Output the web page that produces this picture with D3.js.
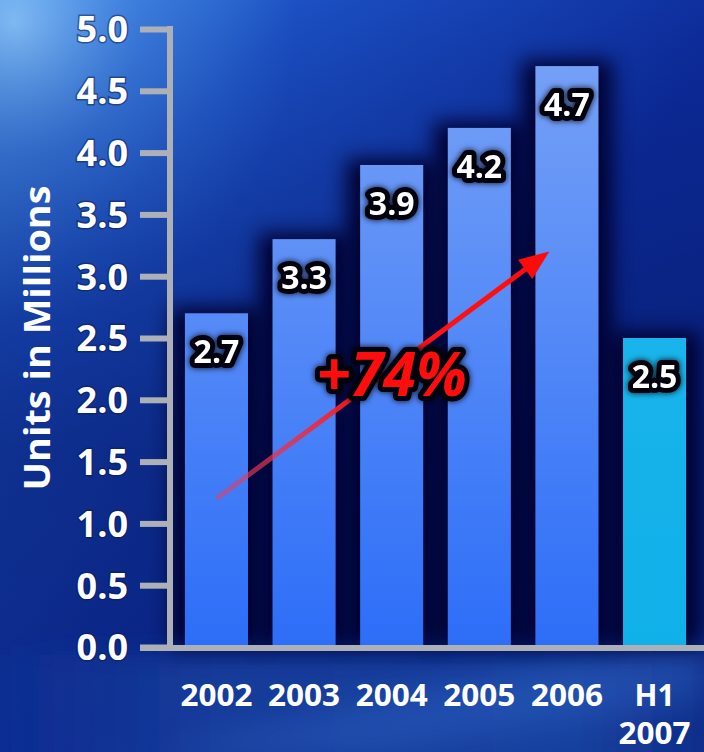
<!DOCTYPE html>
<html>
<head>
<meta charset="utf-8">
<script src="https://cdn.jsdelivr.net/npm/d3@7"></script>
<style>
  html, body { margin: 0; padding: 0; background: #0a2a8a; }
  svg { display: block; }
  text { font-family: "Open Sans", "Noto Sans", sans-serif; font-weight: 700; }
</style>
</head>
<body>
<svg id="chart" width="704" height="752"></svg>
<script>
// Units shipped per period, in millions
const categories = ["2002", "2003", "2004", "2005", "2006", "H1 2007"];
const unitValues = [2.7, 3.3, 3.9, 4.2, 4.7, 2.5];
const yTicks = [0, 0.5, 1.0, 1.5, 2.0, 2.5, 3.0, 3.5, 4.0, 4.5, 5.0];
const yTitle = "Units in Millions";
// Growth annotation: arrow from 2002 to 2006 and its label
const growthLabel = "+74%";
const arrowFrom = { cat: "2002", value: 1.2 };
const arrowTo = { cat: "2006", value: 3.2 };

const W = 704, H = 752;
const svg = d3.select("#chart");
const defs = svg.append("defs");

// ---- background ----
const bg = defs.append("linearGradient").attr("id", "bgMain")
  .attr("x1", 0).attr("y1", 0).attr("x2", 1).attr("y2", 1);
bg.append("stop").attr("offset", "0%").attr("stop-color", "#3f86e0");
bg.append("stop").attr("offset", "22%").attr("stop-color", "#1b4fc2");
bg.append("stop").attr("offset", "55%").attr("stop-color", "#0c2a98");
bg.append("stop").attr("offset", "100%").attr("stop-color", "#0a2384");

const glow = defs.append("radialGradient").attr("id", "bgGlow")
  .attr("cx", 0.02).attr("cy", 0.03).attr("r", 0.4);
glow.append("stop").attr("offset", "0%").attr("stop-color", "#86c0f6").attr("stop-opacity", 0.95);
glow.append("stop").attr("offset", "45%").attr("stop-color", "#4a8ee6").attr("stop-opacity", 0.45);
glow.append("stop").attr("offset", "100%").attr("stop-color", "#3f86e0").attr("stop-opacity", 0);

const lowShade = defs.append("linearGradient").attr("id", "bgLow")
  .attr("x1", 0).attr("y1", 0).attr("x2", 0).attr("y2", 1);
lowShade.append("stop").attr("offset", "0%").attr("stop-color", "#061a66").attr("stop-opacity", 0);
lowShade.append("stop").attr("offset", "60%").attr("stop-color", "#061a66").attr("stop-opacity", 0.5);
lowShade.append("stop").attr("offset", "84%").attr("stop-color", "#061a66").attr("stop-opacity", 0.4);
lowShade.append("stop").attr("offset", "100%").attr("stop-color", "#061a66").attr("stop-opacity", 0.2);

svg.append("rect").attr("width", W).attr("height", H).attr("fill", "url(#bgMain)");
svg.append("rect").attr("width", W).attr("height", H).attr("fill", "url(#bgGlow)");
svg.append("rect").attr("width", W).attr("height", H).attr("fill", "url(#bgLow)");

// lighter band below the baseline, fading in from the left
const floor = defs.append("linearGradient").attr("id", "bgFloor")
  .attr("x1", 0).attr("y1", 0).attr("x2", 1).attr("y2", 0);
floor.append("stop").attr("offset", "0%").attr("stop-color", "#1a45a2").attr("stop-opacity", 0);
floor.append("stop").attr("offset", "30%").attr("stop-color", "#1a45a2").attr("stop-opacity", 0.7);
floor.append("stop").attr("offset", "80%").attr("stop-color", "#1b48a6").attr("stop-opacity", 0.8);
floor.append("stop").attr("offset", "100%").attr("stop-color", "#12348f").attr("stop-opacity", 0.6);
const floorFade = defs.append("filter").attr("id", "floorBlur")
  .attr("x", "-10%").attr("y", "-30%").attr("width", "120%").attr("height", "160%");
floorFade.append("feGaussianBlur").attr("stdDeviation", 14);
svg.append("rect").attr("x", -20).attr("y", 655).attr("width", W + 40).attr("height", 130)
  .attr("fill", "url(#bgFloor)").attr("filter", "url(#floorBlur)");

// soft diagonal streak under the axis
const streak = defs.append("filter").attr("id", "streakBlur")
  .attr("x", "-20%").attr("y", "-50%").attr("width", "140%").attr("height", "200%");
streak.append("feGaussianBlur").attr("stdDeviation", 16);
svg.append("path")
  .attr("d", "M160,752 L430,690 L704,640 L704,700 L380,752 Z")
  .attr("fill", "#3068c8").attr("opacity", 0.4)
  .attr("filter", "url(#streakBlur)");

// ---- scales ----
const y = d3.scaleLinear().domain([0, 5]).range([647, 29]);
const x = d3.scaleBand().domain(categories).range([170, 701])
  .paddingInner(0.28).paddingOuter(0.17);

// ---- bar shadows ----
const shadow = defs.append("filter").attr("id", "barShadow")
  .attr("x", "-60%").attr("y", "-30%").attr("width", "220%").attr("height", "160%");
shadow.append("feGaussianBlur").attr("stdDeviation", 10);

svg.append("g").selectAll("rect").data(categories).join("rect")
  .attr("x", d => x(d) - 14)
  .attr("y", (d, i) => y(unitValues[i]) - 6)
  .attr("width", x.bandwidth() + 28)
  .attr("height", (d, i) => y(0) - y(unitValues[i]) + 6)
  .attr("fill", "#01062e").attr("opacity", 0.95)
  .attr("filter", "url(#barShadow)");

// ---- bars ----
const barGrad = defs.append("linearGradient").attr("id", "barBlue")
  .attr("x1", 0).attr("x2", 0)
  .attr("gradientUnits", "userSpaceOnUse")
  .attr("y1", y(5)).attr("y2", y(0));
barGrad.append("stop").attr("offset", "0%").attr("stop-color", "#79a3f6");
barGrad.append("stop").attr("offset", "100%").attr("stop-color", "#2d6ef8");

const cyanGrad = defs.append("linearGradient").attr("id", "barCyan")
  .attr("x1", 0).attr("x2", 0).attr("gradientUnits", "userSpaceOnUse")
  .attr("y1", y(5)).attr("y2", y(0));
cyanGrad.append("stop").attr("offset", "0%").attr("stop-color", "#22b8ee");
cyanGrad.append("stop").attr("offset", "100%").attr("stop-color", "#10b0e8");

svg.append("g").selectAll("rect").data(categories).join("rect")
  .attr("x", d => x(d))
  .attr("y", (d, i) => y(unitValues[i]))
  .attr("width", x.bandwidth())
  .attr("height", (d, i) => y(0) - y(unitValues[i]))
  .attr("fill", (d, i) => i === categories.length - 1 ? "url(#barCyan)" : "url(#barBlue)");

// ---- axes ----
const axisColor = "#aeb0b8";
const yAxis = svg.append("g").attr("transform", `translate(${x.range()[0]},0)`)
  .call(d3.axisLeft(y).tickValues(yTicks).tickSize(30).tickPadding(12)
    .tickFormat(d3.format(".1f")));
yAxis.select(".domain").remove();
yAxis.selectAll(".tick line").attr("stroke", axisColor).attr("stroke-width", 6);
yAxis.selectAll(".tick text")
  .attr("fill", "#ffffff").attr("font-size", 36)
  .attr("font-family", "'Open Sans', sans-serif").attr("font-weight", 700)
  .attr("dy", "0.36em")
  .style("paint-order", "stroke").attr("stroke", "#0a1a55")
  .attr("stroke-opacity", 0.5).attr("stroke-width", 3);

// vertical axis line
svg.append("line")
  .attr("x1", x.range()[0]).attr("x2", x.range()[0])
  .attr("y1", y(5) - 3).attr("y2", y(0) + 3)
  .attr("stroke", axisColor).attr("stroke-width", 6);
// baseline
svg.append("line")
  .attr("x1", x.range()[0] - 30).attr("x2", W)
  .attr("y1", y(0) + 1).attr("y2", y(0) + 1)
  .attr("stroke", axisColor).attr("stroke-width", 6);

// x labels (split multi-word categories onto two lines)
const xl = svg.append("g").selectAll("text").data(categories).join("text")
  .attr("x", d => x(d) + x.bandwidth() / 2)
  .attr("y", 706)
  .attr("text-anchor", "middle")
  .attr("fill", "#ffffff").attr("font-size", 30);
xl.each(function (d) {
  const parts = d.split(" ");
  const t = d3.select(this);
  parts.forEach((p, k) => {
    t.append("tspan").attr("x", x(d) + x.bandwidth() / 2)
      .attr("dy", k === 0 ? 0 : 38).attr("textLength", p.length > 2 ? 72 : null)
      .attr("lengthAdjust", "spacingAndGlyphs").text(p);
  });
});

// y axis title
svg.append("text")
  .attr("transform", `translate(50,${(y(0) + y(5)) / 2}) rotate(-90)`)
  .attr("text-anchor", "middle")
  .attr("fill", "#ffffff").attr("font-size", 36)
  .attr("textLength", 305).attr("lengthAdjust", "spacingAndGlyphs")
  .text(yTitle);

// ---- growth arrow ----
const ax1 = x(arrowFrom.cat) + x.bandwidth() / 2, ay1 = y(arrowFrom.value);
const ax2 = x(arrowTo.cat) + x.bandwidth() * 0.22, ay2 = y(arrowTo.value);
const arrowGrad = defs.append("linearGradient").attr("id", "arrowGrad")
  .attr("gradientUnits", "userSpaceOnUse")
  .attr("x1", ax1).attr("y1", ay1).attr("x2", ax2).attr("y2", ay2);
arrowGrad.append("stop").attr("offset", "0%").attr("stop-color", "#e0406a").attr("stop-opacity", 0.55);
arrowGrad.append("stop").attr("offset", "45%").attr("stop-color", "#ff1818").attr("stop-opacity", 1);
arrowGrad.append("stop").attr("offset", "100%").attr("stop-color", "#ff0a0a");

const ang = Math.atan2(ay2 - ay1, ax2 - ax1);
const headLen = 30, headHalf = 12;
const bx = ax2 - headLen * Math.cos(ang), by = ay2 - headLen * Math.sin(ang);
svg.append("line")
  .attr("x1", ax1).attr("y1", ay1).attr("x2", bx + 4 * Math.cos(ang)).attr("y2", by + 4 * Math.sin(ang))
  .attr("stroke", "url(#arrowGrad)").attr("stroke-width", 5);
svg.append("path")
  .attr("d", d3.line()([
    [ax2, ay2],
    [bx + headHalf * Math.sin(ang), by - headHalf * Math.cos(ang)],
    [bx - headHalf * Math.sin(ang), by + headHalf * Math.cos(ang)]
  ]) + "Z")
  .attr("fill", "#ff0a0a");

// ---- value labels ----
const labelGlow = defs.append("filter").attr("id", "labelGlow")
  .attr("x", "-30%").attr("y", "-40%").attr("width", "160%").attr("height", "180%");
labelGlow.append("feGaussianBlur").attr("in", "SourceAlpha").attr("stdDeviation", 3).attr("result", "b");
labelGlow.append("feFlood").attr("flood-color", "#000000").attr("flood-opacity", 0.9);
labelGlow.append("feComposite").attr("in2", "b").attr("operator", "in").attr("result", "s");
const lm = labelGlow.append("feMerge");
lm.append("feMergeNode").attr("in", "s");
lm.append("feMergeNode").attr("in", "SourceGraphic");

svg.append("g").selectAll("text").data(categories).join("text")
  .attr("x", d => x(d) + x.bandwidth() / 2)
  .attr("y", (d, i) => y(unitValues[i]) + 50)
  .attr("text-anchor", "middle")
  .attr("font-size", 32)
  .attr("fill", "#ffffff")
  .attr("stroke", "#02030c").attr("stroke-width", 10)
  .attr("stroke-linejoin", "round")
  .style("paint-order", "stroke")
  .attr("filter", "url(#labelGlow)")
  .text((d, i) => unitValues[i].toFixed(1));

// growth label
svg.append("text")
  .attr("x", x("2004") + x.bandwidth() / 2)
  .attr("y", y(2.03))
  .attr("text-anchor", "middle")
  .attr("font-size", 60).attr("font-style", "italic")
  .attr("textLength", 150).attr("lengthAdjust", "spacingAndGlyphs")
  .attr("fill", "#ff1010")
  .attr("stroke", "#050208").attr("stroke-width", 10)
  .attr("stroke-linejoin", "round")
  .style("paint-order", "stroke")
  .attr("filter", "url(#labelGlow)")
  .text(growthLabel);
</script>
</body>
</html>
